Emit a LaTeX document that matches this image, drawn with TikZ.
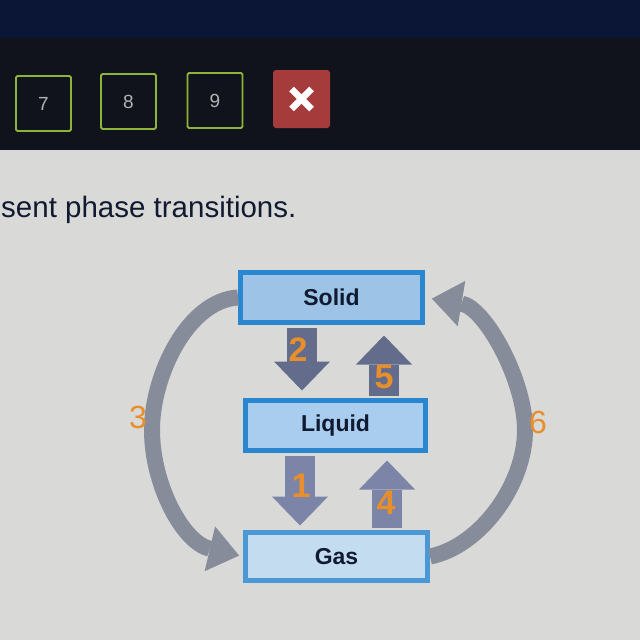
\documentclass[tikz,border=0pt]{standalone}
\usepackage{fontspec}
\setmainfont{Liberation Sans}
\usetikzlibrary{arrows.meta}
\definecolor{navy}{HTML}{0B1536}
\definecolor{darkband}{HTML}{10131C}
\definecolor{paper}{HTML}{D9D9D7}
\definecolor{btngreen}{HTML}{8DB33B}
\definecolor{btnred}{HTML}{A63B3B}
\definecolor{boxborder}{HTML}{2B86D0}
\definecolor{fillS}{HTML}{9DC4E6}
\definecolor{fillL}{HTML}{A9CDEE}
\definecolor{fillG}{HTML}{C3DCF0}
\definecolor{arrA}{HTML}{646C8C}
\definecolor{arrB}{HTML}{7C84A8}
\definecolor{arcgray}{HTML}{878C9A}
\definecolor{lblorange}{HTML}{E88F2C}
\definecolor{ink}{HTML}{101A30}
\begin{document}
\begin{tikzpicture}[x=1pt,y=-1pt,
  btn/.style={draw=btngreen,line width=1.8pt,fill=darkband,rounded corners=1.5pt,minimum width=55pt,minimum height=55pt,inner sep=0pt,text=gray!60,font=\fontsize{19}{19}\selectfont},
  phase/.style={draw=boxborder,line width=5pt,inner sep=0pt,text=ink,font=\fontsize{23}{23}\selectfont\bfseries},
  blk/.style={line width=30pt,-{Triangle[length=29pt,width=56pt,line width=0pt]}},
  arcline/.style={draw=arcgray,line width=16pt,-{Triangle[length=30pt,width=46pt,line width=0pt]}},
  numlbl/.style={text=lblorange,font=\fontsize{34}{34}\selectfont\bfseries,inner sep=0pt},
  sidelbl/.style={text=lblorange,font=\fontsize{32}{32}\selectfont,inner sep=0pt}]
\useasboundingbox (0,0) rectangle (640,640);
% background
\fill[paper] (0,150) rectangle (640,640);
\fill[darkband] (0,38) rectangle (640,150);
\fill[navy] (0,0) rectangle (640,38);
% buttons
\node[btn] (b7) at (43.5,103.5) {7};
\node[btn] (b8) at (128.5,101.5) {8};
\node[btn] (b9) at (215,100.5) {9};
\node[fill=btnred,rounded corners=3pt,minimum width=57pt,minimum height=58pt,inner sep=0pt] (bx) at (301.5,99) {};
\draw[white,line width=6.5pt] ([shift={(-10,-10)}]bx.center) -- ([shift={(10,10)}]bx.center);
\draw[white,line width=6.5pt] ([shift={(-10,10)}]bx.center) -- ([shift={(10,-10)}]bx.center);
% heading text
\node[anchor=base west,inner sep=0pt,text=ink,font=\fontsize{29.5}{30}\selectfont] (head) at (1,217) {sent phase transitions.};
% phase boxes
\node[phase,fill=fillS,minimum width=182pt,minimum height=50pt] (solid) at (331.5,297.5) {Solid};
\node[phase,fill=fillL,minimum width=180pt,minimum height=50pt] (liquid) at (335.5,425.5) {Liquid};
\node[phase,fill=fillG,draw=boxborder!85!white,minimum width=182pt,minimum height=48pt] (gas) at (336.5,556.5) {Gas};
% column coordinates for block arrows
\coordinate (c2) at (302,0);
\coordinate (c5) at (384,0);
\coordinate (c1) at (300,0);
\coordinate (c4) at (387,0);
\draw[blk,draw=arrA,shorten <=2.5pt,shorten >=7.5pt] (c2 |- solid.south) -- (c2 |- liquid.north);
\draw[blk,draw=arrA,shorten <=2.5pt,shorten >=10.5pt] (c5 |- liquid.north) -- (c5 |- solid.south);
\draw[blk,draw=arrB,shorten <=2.5pt,shorten >=4.5pt] (c1 |- liquid.south) -- (c1 |- gas.north);
\draw[blk,draw=arrB,shorten <=2.5pt,shorten >=7.5pt] (c4 |- gas.north) -- (c4 |- liquid.south);
% curved arrows
\coordinate (m3) at (152,430);
\coordinate (m6) at (525,430);
\draw[arcline,shorten >=4pt] (solid.west) .. controls +(-50,3) and +(0,-55) .. (m3) .. controls +(0,55) and +(-60,-14) .. (gas.west);
\draw[arcline,shorten >=7pt] (gas.east) .. controls +(50,-10) and +(0,55) .. (m6) .. controls +(0,-50) and +(60,10) .. (solid.east);
% labels
\node[numlbl] (l2) at (298,350) {2};
\node[numlbl] (l5) at (384,377) {5};
\node[numlbl] (l1) at (301,486) {1};
\node[numlbl] (l4) at (386,503) {4};
\node[sidelbl] (l3) at (138,417) {3};
\node[sidelbl] (l6) at (538,422) {6};
\end{tikzpicture}
\end{document}
